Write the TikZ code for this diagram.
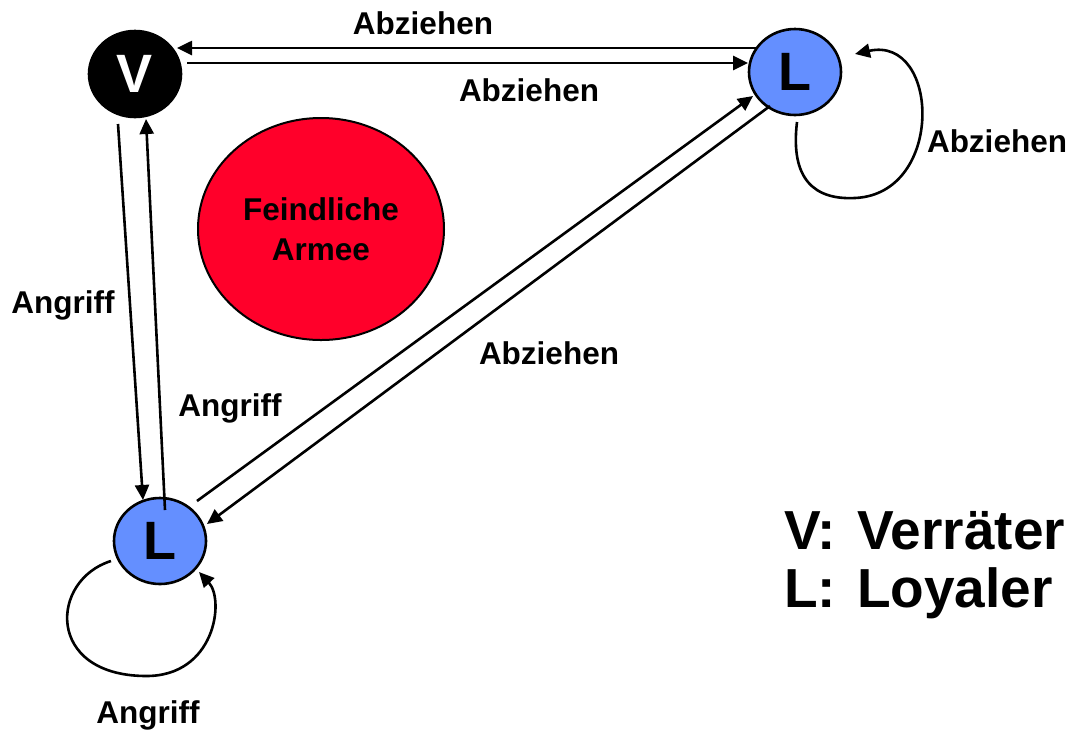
\documentclass[tikz,border=0pt]{standalone}
\usepackage{fontspec}
\setmainfont{Liberation Sans}
\usetikzlibrary{arrows.meta,shapes.geometric}
\definecolor{lblue}{RGB}{100,143,255}
\definecolor{armyred}{RGB}{255,0,42}
\begin{document}
\begin{tikzpicture}[x=1pt,y=-1pt,
  agent/.style={ellipse, draw=black, line width=2.6pt, minimum width=92pt, minimum height=86pt, inner sep=0pt, font=\fontsize{54}{60}\selectfont\bfseries},
  lbl/.style={font=\fontsize{31.5}{37}\selectfont\bfseries, inner sep=0pt, anchor=base},
  legend/.style={font=\fontsize{55}{60}\selectfont\bfseries, inner sep=0pt, anchor=base west},
  conn/.style={line width=2.6pt, -{Triangle[length=15pt,width=14pt]}},
]
\useasboundingbox (0,0) rectangle (1070,732);

\node[agent, fill=black, text=white] (V) at (135,74) {V};
\node[agent, fill=lblue] (L1) at (795,72) {L};
\node[agent, fill=lblue] (L2) at (160,541) {L};
\node[ellipse, draw=black, line width=2pt, fill=armyred, minimum width=246pt, minimum height=222pt, inner sep=0pt, align=center, font=\fontsize{31.5}{40}\selectfont\bfseries] (A) at (321,229) {Feindliche\\Armee};

% top pair
\draw[conn] ([shift={(-37,-24)}]L1.center) -- ([shift={(42,-26)}]V.center);
\draw[conn] ([shift={(52,-11)}]V.center) -- ([shift={(-47,-9)}]L1.center);
% vertical pair
\draw[conn] ([shift={(-17,50)}]V.center) -- ([shift={(-17,-41)}]L2.center);
\draw[conn] ([shift={(5,-31)}]L2.center) -- ([shift={(11,45)}]V.center);
% diagonal pair
\draw[conn] ([shift={(37,-40)}]L2.center) -- ([shift={(-42,24)}]L1.center);
\draw[conn] ([shift={(-25,34)}]L1.center) -- ([shift={(47,-17)}]L2.center);
% self loops
\draw[conn] ([shift={(-49,20)}]L2.center) .. controls (50,580) and (45,675) .. (145,676) .. controls (215,677) and (225,600) .. ([shift={(39,31)}]L2.center);
\draw[conn] ([shift={(2,50)}]L1.center) .. controls (790,180) and (815,200) .. (855,198) .. controls (945,194) and (940,35) .. ([shift={(60,-18)}]L1.center);

% labels
\node[lbl] (t1) at (423,34) {Abziehen};
\node[lbl] (t2) at (529,101) {Abziehen};
\node[lbl] (t3) at (997,152) {Abziehen};
\node[lbl] (t4) at (549,364) {Abziehen};
\node[lbl] (t5) at (63,313) {Angriff};
\node[lbl] (t6) at (230,416) {Angriff};
\node[lbl] (t7) at (148,723) {Angriff};

% legend
\node[legend] (k1) at (784,549) {V:\hspace{21pt}Verräter};
\node[legend] (k2) at (784,607) {L:\hspace{21pt}Loyaler};
\end{tikzpicture}
\end{document}
